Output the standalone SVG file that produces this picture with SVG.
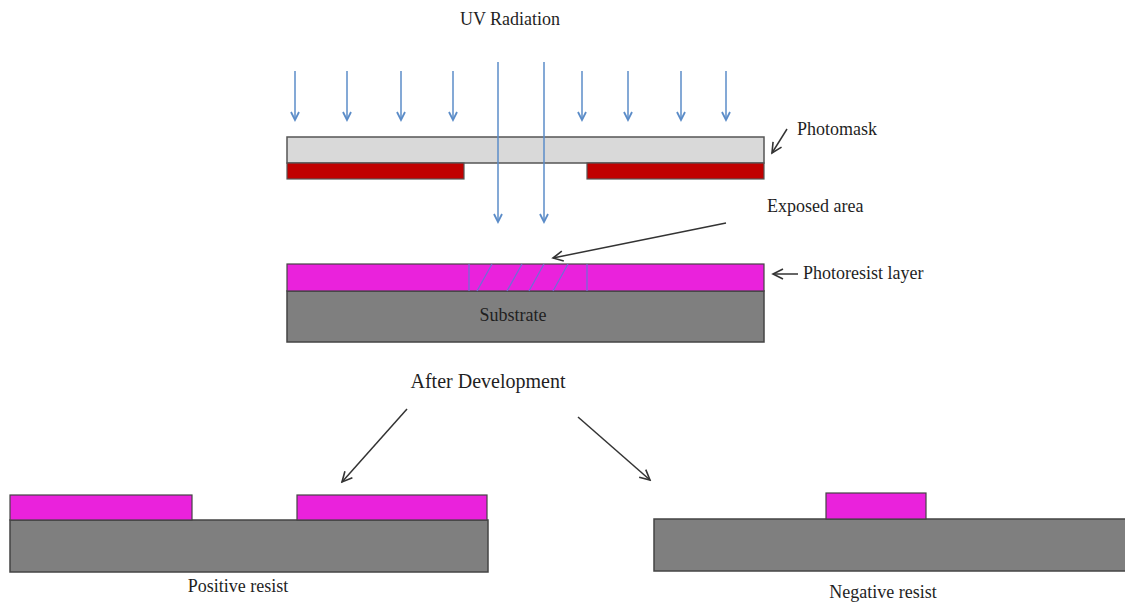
<svg xmlns="http://www.w3.org/2000/svg" width="1125" height="604" viewBox="0 0 1125 604">
  <style>
    .lbl { font-family: "Liberation Serif", "Times New Roman", serif; fill: #1f1f1f; }
    .mask { fill: #d9d9d9; stroke: #555; stroke-width: 1.5; }
    .chrome { fill: #c00000; stroke: #555; stroke-width: 1.2; }
    .resist { fill: #ea22dc; stroke: #444; stroke-width: 1.2; }
    .sub { fill: #7f7f7f; stroke: #444; stroke-width: 1.5; }
    .uv { stroke: #5b8cc8; stroke-width: 1.5; fill: none; marker-end: url(#uvHead); }
    .ptr { stroke: #333; stroke-width: 1.5; fill: none; marker-end: url(#ptrHead); }
    .hatch { stroke: #6d6fd6; stroke-width: 1.2; fill: none; }
  </style>
  <defs>
    <marker id="uvHead" markerWidth="12" markerHeight="12" refX="10" refY="6" orient="auto" markerUnits="userSpaceOnUse" viewBox="0 0 12 12">
      <path d="M2,2 L10,6 L2,10" fill="none" stroke="#5b8cc8" stroke-width="1.8"/>
    </marker>
    <marker id="ptrHead" markerWidth="14" markerHeight="14" refX="12" refY="7" orient="auto" markerUnits="userSpaceOnUse" viewBox="0 0 14 14">
      <path d="M2,2 L12,7 L2,12" fill="none" stroke="#333" stroke-width="1.6"/>
    </marker>
  </defs>

  <rect width="1125" height="604" fill="#ffffff"/>

  <!-- Exposure source -->
  <g id="uv-radiation">
    <text class="lbl" x="510" y="25" font-size="18" text-anchor="middle">UV Radiation</text>
  </g>

  <!-- Mask: quartz plate with chrome pattern underneath -->
  <g id="photomask">
    <rect class="mask" x="287" y="137" width="477" height="26"/>
    <rect class="chrome" x="287" y="163" width="177" height="16"/>
    <rect class="chrome" x="587" y="163" width="177" height="16"/>
  </g>

  <!-- Wafer stack before development -->
  <g id="wafer">
    <rect class="sub" x="287" y="291" width="477" height="51"/>
    <rect class="resist" x="287" y="264" width="477" height="27"/>
    <text class="lbl" x="513" y="321" font-size="18" text-anchor="middle">Substrate</text>
  </g>

  <!-- Region of the resist hit by the light -->
  <g id="exposed-area">
    <line class="hatch" x1="469" y1="264" x2="469" y2="291"/>
    <line class="hatch" x1="587" y1="264" x2="587" y2="291"/>
    <line class="hatch" x1="477" y1="291" x2="492" y2="264"/>
    <line class="hatch" x1="507" y1="291" x2="522" y2="264"/>
    <line class="hatch" x1="529" y1="291" x2="544" y2="264"/>
    <line class="hatch" x1="553" y1="291" x2="568" y2="264"/>
  </g>

  <g id="after-development">
    <text class="lbl" x="488" y="388" font-size="20" text-anchor="middle">After Development</text>
  </g>

  <!-- Result for a positive resist -->
  <g id="positive-resist">
    <rect class="sub" x="10" y="520" width="478" height="52"/>
    <rect class="resist" x="10" y="495" width="182" height="25"/>
    <rect class="resist" x="297" y="495" width="190" height="25"/>
    <text class="lbl" x="238" y="592" font-size="18" text-anchor="middle">Positive resist</text>
  </g>

  <!-- Result for a negative resist -->
  <g id="negative-resist">
    <rect class="sub" x="654" y="519" width="475" height="52"/>
    <rect class="resist" x="826" y="493" width="100" height="26"/>
    <text class="lbl" x="883" y="598" font-size="18" text-anchor="middle">Negative resist</text>
  </g>

  <!-- Callout labels -->
  <g id="labels">
    <text class="lbl" x="797" y="135" font-size="18">Photomask</text>
    <text class="lbl" x="767" y="212" font-size="18">Exposed area</text>
    <text class="lbl" x="803" y="279" font-size="18">Photoresist layer</text>
  </g>

  <g id="connectors">
    <!-- light rays blocked by the chrome -->
    <line class="uv" x1="295" y1="71" x2="295" y2="120"/>
    <line class="uv" x1="347" y1="71" x2="347" y2="120"/>
    <line class="uv" x1="401" y1="71" x2="401" y2="120"/>
    <line class="uv" x1="453" y1="71" x2="453" y2="120"/>
    <line class="uv" x1="582" y1="71" x2="582" y2="120"/>
    <line class="uv" x1="628" y1="71" x2="628" y2="120"/>
    <line class="uv" x1="681" y1="71" x2="681" y2="120"/>
    <line class="uv" x1="726" y1="71" x2="726" y2="120"/>
    <!-- light rays passing through the opening -->
    <line class="uv" x1="498" y1="62" x2="498" y2="222"/>
    <line class="uv" x1="544" y1="62" x2="544" y2="222"/>
    <!-- label pointers -->
    <line class="ptr" x1="787" y1="129" x2="772" y2="153"/>
    <line class="ptr" x1="726" y1="223" x2="553" y2="258"/>
    <line class="ptr" x1="798" y1="274" x2="773" y2="274"/>
    <!-- development branches -->
    <line class="ptr" x1="407" y1="409" x2="342" y2="482"/>
    <line class="ptr" x1="578" y1="417" x2="650" y2="480"/>
  </g>
</svg>
